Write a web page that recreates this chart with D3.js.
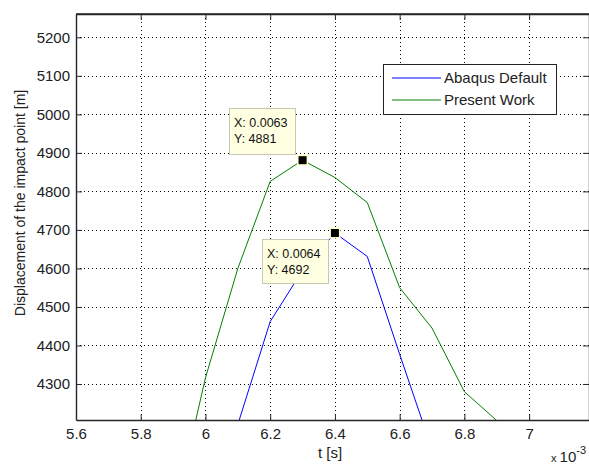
<!DOCTYPE html>
<html>
<head>
<meta charset="utf-8">
<script src="https://cdn.jsdelivr.net/npm/d3@7/dist/d3.min.js"></script>
<style>
html,body{margin:0;padding:0;background:#fff;}
svg{display:block;font-family:"Liberation Sans",Arial,sans-serif;}
</style>
</head>
<body>
<svg id="chart" width="589" height="465"></svg>
<script>
// t values in units of 1e-3 s
const tValues = [5.9, 6.0, 6.1, 6.2, 6.3, 6.4, 6.5, 6.6, 6.7, 6.8, 6.9, 7.0];
const abaqusDefault = [3700, 3950, 4195, 4462, 4595, 4692, 4631, 4377, 4130, 3900, 3700, 3500];
const presentWork  = [3950, 4316, 4600, 4826, 4881, 4836, 4771, 4550, 4445, 4280, 4205, 4100];
const xTicks = [5.6, 5.8, 6.0, 6.2, 6.4, 6.6, 6.8, 7.0];
const xTickLabels = ["5.6", "5.8", "6", "6.2", "6.4", "6.6", "6.8", "7"];
const yTicks = [4300, 4400, 4500, 4600, 4700, 4800, 4900, 5000, 5100, 5200];
const seriesNames = ["Abaqus Default", "Present Work"];
const dataTips = [
  {t: 6.3, y: 4881, label: ["X: 0.0063", "Y: 4881"]},
  {t: 6.4, y: 4692, label: ["X: 0.0064", "Y: 4692"]}
];

const svg = d3.select("#chart");
const L = 76, R = 589, T = 14, B = 420;
const x = d3.scaleLinear().domain([5.6, 7.185]).range([L, R]);
const y = d3.scaleLinear().domain([4206.5, 5260.5]).range([B, T]);

// grid
const grid = svg.append("g").attr("stroke", "#000").attr("stroke-width", 1)
  .attr("stroke-dasharray", "1,3").attr("shape-rendering", "crispEdges");
xTicks.slice(1).forEach(v => grid.append("line")
  .attr("x1", Math.round(x(v)) + 0.5).attr("x2", Math.round(x(v)) + 0.5)
  .attr("y1", T).attr("y2", B));
yTicks.forEach(v => grid.append("line")
  .attr("y1", Math.round(y(v)) + 0.5).attr("y2", Math.round(y(v)) + 0.5)
  .attr("x1", L).attr("x2", R));

// clip
svg.append("clipPath").attr("id", "clip").append("rect")
  .attr("x", L).attr("y", T).attr("width", R - L).attr("height", B - T);

const line = d3.line().x((d, i) => x(tValues[i])).y(d => y(d));
const plot = svg.append("g").attr("clip-path", "url(#clip)");
plot.append("path").datum(abaqusDefault).attr("d", line)
  .attr("fill", "none").attr("stroke", "#0000ff").attr("stroke-width", 1);
plot.append("path").datum(presentWork).attr("d", line)
  .attr("fill", "none").attr("stroke", "#008000").attr("stroke-width", 1);

// axes
const axisColor = "#262626";
const bottomAxis = d3.axisBottom(x).tickValues(xTicks).tickFormat((d, i) => xTickLabels[i])
  .tickSizeInner(-6).tickSizeOuter(0).tickPadding(8);
const gx = svg.append("g").attr("transform", `translate(0,${B})`).call(bottomAxis);
const topAxis = d3.axisTop(x).tickValues(xTicks).tickFormat("").tickSizeInner(-6).tickSizeOuter(0);
const gxt = svg.append("g").attr("transform", `translate(0,${T})`).call(topAxis);
const leftAxis = d3.axisLeft(y).tickValues(yTicks).tickFormat(d3.format("d"))
  .tickSizeInner(-6).tickSizeOuter(0).tickPadding(6);
const gy = svg.append("g").attr("transform", `translate(${L},0)`).call(leftAxis);
const rightAxis = d3.axisRight(y).tickValues(yTicks).tickFormat("").tickSizeInner(-6).tickSizeOuter(0);
const gyr = svg.append("g").attr("transform", `translate(${R},0)`).call(rightAxis);
[gx, gxt, gy, gyr].forEach(g => {
  g.select(".domain").attr("stroke", axisColor).attr("stroke-width", 1.4);
  g.selectAll(".tick line").attr("stroke", axisColor).attr("stroke-width", 1);
  g.selectAll("text").attr("fill", "#222").attr("font-size", 15)
    .attr("font-family", "'Liberation Sans', Arial, sans-serif");
});
svg.append("line").attr("x1", L).attr("x2", R).attr("y1", T).attr("y2", T)
  .attr("stroke", axisColor).attr("stroke-width", 1.4);

// axis labels
svg.append("text").attr("x", 330).attr("y", 458).attr("text-anchor", "middle")
  .attr("font-size", 15).attr("fill", "#222").text("t [s]");
svg.append("text").attr("transform", "translate(25,203) rotate(-90)")
  .attr("text-anchor", "middle").attr("font-size", 14).attr("fill", "#222")
  .text("Displacement of the impact point [m]");
const ex = svg.append("text").attr("x", 551).attr("y", 462).attr("font-size", 15).attr("fill", "#222");
ex.append("tspan").attr("font-size", 11).text("x ");
ex.append("tspan").text("10");
ex.append("tspan").attr("font-size", 11).attr("dy", -8).text("-3");

// data tip markers
dataTips.forEach(d => {
  const cx = x(d.t), cy = y(d.y);
  svg.append("rect").attr("x", cx - 5.5).attr("y", cy - 5.5).attr("width", 11).attr("height", 11)
    .attr("fill", "#ffffcc");
  svg.append("rect").attr("x", cx - 4).attr("y", cy - 4).attr("width", 8).attr("height", 8)
    .attr("fill", "#000");
});

// data tip boxes
const boxes = [
  {x: 229, y: 108, w: 66, h: 46},
  {x: 262, y: 239, w: 66, h: 44}
];
dataTips.forEach((d, i) => {
  const b = boxes[i];
  svg.append("rect").attr("x", b.x + 0.5).attr("y", b.y + 0.5).attr("width", b.w).attr("height", b.h)
    .attr("fill", "#ffffe1").attr("stroke", "#c8c8b4").attr("stroke-width", 1);
  d.label.forEach((s, j) => {
    svg.append("text").attr("x", b.x + 5).attr("y", b.y + 19 + j * 16)
      .attr("font-size", 12.5).attr("fill", "#111").text(s);
  });
});

// legend
const lg = svg.append("g");
lg.append("rect").attr("x", 383.5).attr("y", 64.5).attr("width", 173).attr("height", 50)
  .attr("fill", "#fff").attr("stroke", "#222").attr("stroke-width", 1);
const legendColors = ["#0000ff", "#008000"];
seriesNames.forEach((n, i) => {
  const ly = 78 + i * 22;
  lg.append("line").attr("x1", 392).attr("x2", 441).attr("y1", ly).attr("y2", ly)
    .attr("stroke", legendColors[i]).attr("stroke-width", 1);
  lg.append("text").attr("x", 444).attr("y", ly + 5).attr("font-size", 15).attr("fill", "#222").text(n);
});
</script>
</body>
</html>
